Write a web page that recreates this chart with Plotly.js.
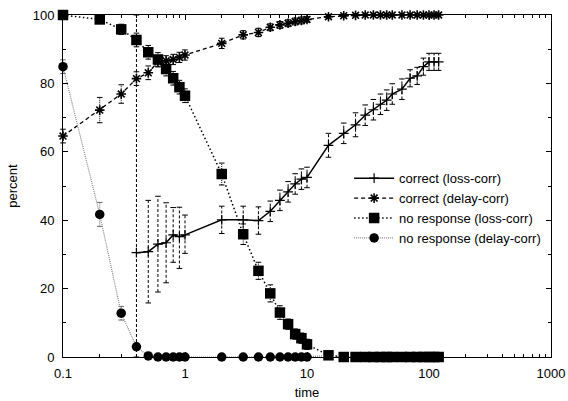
<!DOCTYPE html>
<html>
<head>
<meta charset="utf-8">
<script src="https://cdn.plot.ly/plotly-3.0.1.min.js"></script>
<style>html,body{margin:0;padding:0;background:#fff}#chart{width:568px;height:401px}</style>
</head>
<body>
<div id="chart"></div>
<script>
// ---- data ----
const xAll = [0.1,0.2,0.3,0.4,0.5,0.6,0.7,0.8,0.9,1,2,3,4,5,6,7,8,9,10,15,20,25,30,35,40,45,50,60,70,80,90,100,110,120];
const xLoss = xAll.slice(3); // loss-corr "correct" starts at 0.4

const correctLoss = [30.5,30.8,33.0,33.4,35.7,35.2,35.7,40.1,40.1,39.9,42.6,45.8,48.3,50.6,52.0,52.5,61.9,65.4,67.9,70.7,72.3,73.9,75.1,76.9,78.3,81.5,82.2,84.9,86.3,86.3,86.3];
const correctLossErrPlus  = [69.5,15,14,11.7,8,8.6,5.8,4,4,4,3,3,3,3,3,3,3.5,3,3.5,3,3,3,3,3,3,2.5,2.5,2.5,2.5,2.5,2.5];
const correctLossErrMinus = [30.5,15,14,11.7,8,9.3,5.4,4,4,4,3,3,3,3,3,3,3.5,3,3.5,3,3,3,3,3,3,2.5,2.5,2.5,2.5,2.5,2.5];

const correctDelay = [64.6,72.2,76.9,81.4,83.1,86.3,86.6,87.0,87.6,88.3,91.7,94.2,94.9,96.4,97.1,97.6,98.1,98.4,98.7,99.5,99.8,99.9,100,100,100,100,100,100,100,100,100,100,100,100];
const correctDelayErr = [2,3.7,2.7,2,2,1.5,1.5,1.5,1.5,1.5,1.5,1.2,1.2,1,1,1,1,1,0.8,0.4,0.3,0.2,0,0,0,0,0,0,0,0,0,0,0,0];

const noRespLoss = [100,98.7,95.8,92.7,89.1,87.0,84.2,81.5,78.9,76.4,53.5,35.9,25.2,18.6,13.0,9.6,6.7,5.5,3.7,0.5,0,0,0,0,0,0,0,0,0,0,0,0,0,0];
const noRespLossErr = [0.3,1,1.5,2,2,2,2,2,2,2,3.2,3,2.5,2.5,2,1.5,1.5,1.5,1.5,0.5,0,0,0,0,0,0,0,0,0,0,0,0,0,0];

const noRespDelay = [84.9,41.7,12.8,3.0,0.3,0,0,0,0,0,0,0,0,0,0,0,0,0,0,0.5,0,0,0,0,0,0,0,0,0,0,0,0,0,0];
const noRespDelayErr = [2,3.5,2,1,0.5,0,0,0,0,0,0,0,0,0,0,0,0,0,0,0,0,0,0,0,0,0,0,0,0,0,0,0,0,0];

const names = ['correct (loss-corr)','correct (delay-corr)','no response (loss-corr)','no response (delay-corr)'];

// ---- error bar helpers (dashed stems + caps) ----
function errTraces(xs, ys, plus, minus, dash, color) {
  const sx = [], sy = [], cx = [], cy = [];
  for (let i = 0; i < xs.length; i++) {
    if (plus[i] === 0 && minus[i] === 0) continue;
    const lo = Math.max(0, ys[i] - minus[i]);
    const hi = Math.min(100, ys[i] + plus[i]);
    sx.push(xs[i], xs[i], null); sy.push(lo, hi, null);
    cx.push(xs[i], xs[i]); cy.push(lo, hi);
  }
  return [
    {x: sx, y: sy, mode: 'lines', showlegend: false, hoverinfo: 'skip', cliponaxis: false,
     line: {color: color, width: 1, dash: dash}},
    {x: cx, y: cy, mode: 'markers', showlegend: false, hoverinfo: 'skip', cliponaxis: false,
     marker: {symbol: 'line-ew', size: 4, line: {color: color, width: 1}}}
  ];
}

const traces = [];
traces.push(...errTraces(xLoss, correctLoss, correctLossErrPlus, correctLossErrMinus, '3px,2px', '#000'));
traces.push(...errTraces(xAll, correctDelay, correctDelayErr, correctDelayErr, '1px,1px', '#000'));
traces.push(...errTraces(xAll, noRespLoss, noRespLossErr, noRespLossErr, '1px,1px', '#000'));
traces.push(...errTraces(xAll, noRespDelay, noRespDelayErr, noRespDelayErr, '1px,1px', '#666'));

traces.push({x: xLoss, y: correctLoss, name: names[0], mode: 'lines+markers', cliponaxis: false,
  line: {color: '#000', width: 1.5},
  marker: {symbol: 'cross-thin', size: 7, color: '#000', line: {color: '#000', width: 1.2}}});
traces.push({x: xAll, y: correctDelay, name: names[1], mode: 'lines+markers', cliponaxis: false,
  line: {color: '#000', width: 1.3, dash: '4px,3px'},
  marker: {symbol: 'asterisk', size: 8, color: '#000', line: {color: '#000', width: 1.6}}});
traces.push({x: xAll, y: noRespLoss, name: names[2], mode: 'lines+markers', cliponaxis: false,
  line: {color: '#000', width: 1.5, dash: '1.5px,2.5px'},
  marker: {symbol: 'square', size: 10.5, color: '#000'}});
traces.push({x: xAll, y: noRespDelay, name: names[3], mode: 'lines+markers', cliponaxis: false,
  line: {color: '#888', width: 1.2, dash: '1px,1px'},
  marker: {symbol: 'circle', size: 9.5, color: '#000'}});

const font = {family: '"Liberation Sans", Arial, Helvetica, sans-serif', size: 13, color: '#000'};

const layout = {
  width: 568, height: 401,
  margin: {l: 63, r: 17, t: 15, b: 44},
  paper_bgcolor: '#fff', plot_bgcolor: '#fff',
  font: font,
  showlegend: true,
  legend: {x: 0.99, xanchor: 'right', y: 0.435, yanchor: 'middle',
    bgcolor: 'rgba(0,0,0,0)', font: {family: font.family, size: 13, color: '#000'},
    itemwidth: 40, tracegroupgap: 0},
  xaxis: {
    type: 'log', range: [-1, 3],
    tickvals: [0.1, 1, 10, 100, 1000], ticktext: ['0.1', '1', '10', '100', '1000'],
    ticks: 'inside', ticklen: 5, tickwidth: 1, tickcolor: '#000',
    minor: {ticks: 'inside', ticklen: 3, tickwidth: 1, tickcolor: '#000', dtick: 'D1', showgrid: false},
    showline: true, linecolor: '#000', linewidth: 1, mirror: 'ticks',
    showgrid: false, zeroline: false,
    ticklabelstandoff: 4,
    title: {text: 'time', font: font, standoff: 8}
  },
  yaxis: {
    range: [0, 100], tickvals: [0, 20, 40, 60, 80, 100],
    ticks: 'inside', ticklen: 5, tickwidth: 1, tickcolor: '#000',
    minor: {ticks: 'inside', ticklen: 3, tickwidth: 1, tickcolor: '#000', dtick: 10, showgrid: false},
    showline: true, linecolor: '#000', linewidth: 1, mirror: 'ticks',
    showgrid: false, zeroline: false,
    ticklabelstandoff: 5,
    title: {text: 'percent', font: font, standoff: 12}
  }
};

Plotly.newPlot('chart', traces, layout, {staticPlot: true, displayModeBar: false});
</script>
</body>
</html>
